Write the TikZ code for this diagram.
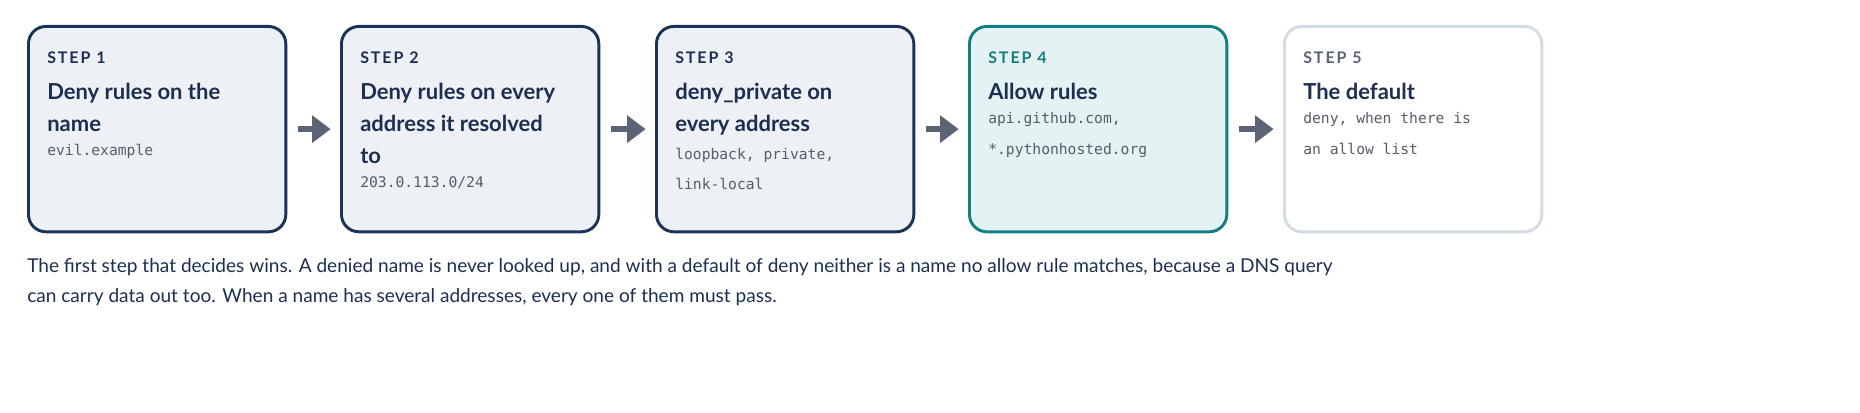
\documentclass[tikz,border=0pt]{standalone}
\usepackage{fontspec}
\setmainfont{Lato}
\setmonofont{DejaVu Sans Mono}
\newfontfamily\steplabel{Lato}[LetterSpace=12]
\usetikzlibrary{positioning,arrows.meta}
\definecolor{navy}{HTML}{1C3358}
\definecolor{ink}{HTML}{1C2F50}
\definecolor{paleblue}{HTML}{EDF0F5}
\definecolor{teal}{HTML}{137E80}
\definecolor{paleteal}{HTML}{E4F2F3}
\definecolor{mist}{HTML}{D3DCE5}
\definecolor{slate}{HTML}{5B6474}
\definecolor{codegray}{HTML}{555D68}
\begin{document}
\begin{tikzpicture}[x=0.75pt,y=0.75pt,node distance=9pt,
  box/.style={draw=navy,fill=paleblue,line width=2.2pt,rounded corners=13pt,
    minimum width=193pt,minimum height=154pt,anchor=north west},
  lbl/.style={inner sep=0pt,anchor=base west,text=ink,font=\steplabel\bfseries\fontsize{12pt}{14pt}\selectfont},
  head/.style={inner sep=0pt,align=left,text=ink,font=\bfseries\fontsize{16.5pt}{24pt}\selectfont},
  code/.style={inner sep=0pt,align=left,text=codegray,font=\ttfamily\fontsize{11pt}{23pt}\selectfont},
  flow/.style={draw=slate,line width=4pt,-{Triangle[length=14pt,width=20pt]}}]
\useasboundingbox (0,0) rectangle (1860,-413);
% boxes
\node[box] (s1) at (27,-25) {};
\node[box] (s2) at (340,-25) {};
\node[box] (s3) at (655,-25) {};
\node[box,draw=teal,fill=paleteal] (s4) at (968,-25) {};
\node[box,draw=mist,fill=white] (s5) at (1283,-25) {};
% labels
\node[lbl] (l1) at (47,-64) {STEP 1};
\node[lbl] (l2) at (360,-64) {STEP 2};
\node[lbl] (l3) at (675,-64) {STEP 3};
\node[lbl,text=teal] (l4) at (988,-64) {STEP 4};
\node[lbl,text=slate] (l5) at (1303,-64) {STEP 5};
% headings
\node[head,below=14pt of l1.south west,anchor=north west] (h1) {Deny rules on the\\name};
\node[head,below=14pt of l2.south west,anchor=north west] (h2) {Deny rules on every\\address it resolved\\to};
\node[head,below=14pt of l3.south west,anchor=north west] (h3) {deny\_private on\\every address};
\node[head,below=14pt of l4.south west,anchor=north west] (h4) {Allow rules};
\node[head,below=14pt of l5.south west,anchor=north west] (h5) {The default};
% examples
\node[code,below=of h1.south west,anchor=north west] (c1) {evil.example};
\node[code,below=of h2.south west,anchor=north west] (c2) {203.0.113.0/24};
\node[code,below=of h3.south west,anchor=north west] (c3) {loopback, private,\\link-local};
\node[code,below=of h4.south west,anchor=north west] (c4) {api.github.com,\\*.pythonhosted.org};
\node[code,below=of h5.south west,anchor=north west] (c5) {deny, when there is\\an allow list};
% arrows
\foreach \a/\b in {s1/s2,s2/s3,s3/s4,s4/s5}
  \draw[flow,shorten <=8pt,shorten >=7pt] (\a.east) -- (\b.west);
% note
\node[inner sep=0pt,anchor=north west,align=left,text=ink,
  font=\fontsize{14.3pt}{22.5pt}\selectfont] (note) at (27,-258)
  {The first step that decides wins. A denied name is never looked up, and with a default of deny neither is a name no allow rule matches, because a DNS query\\
   can carry data out too. When a name has several addresses, every one of them must pass.};
\end{tikzpicture}
\end{document}
